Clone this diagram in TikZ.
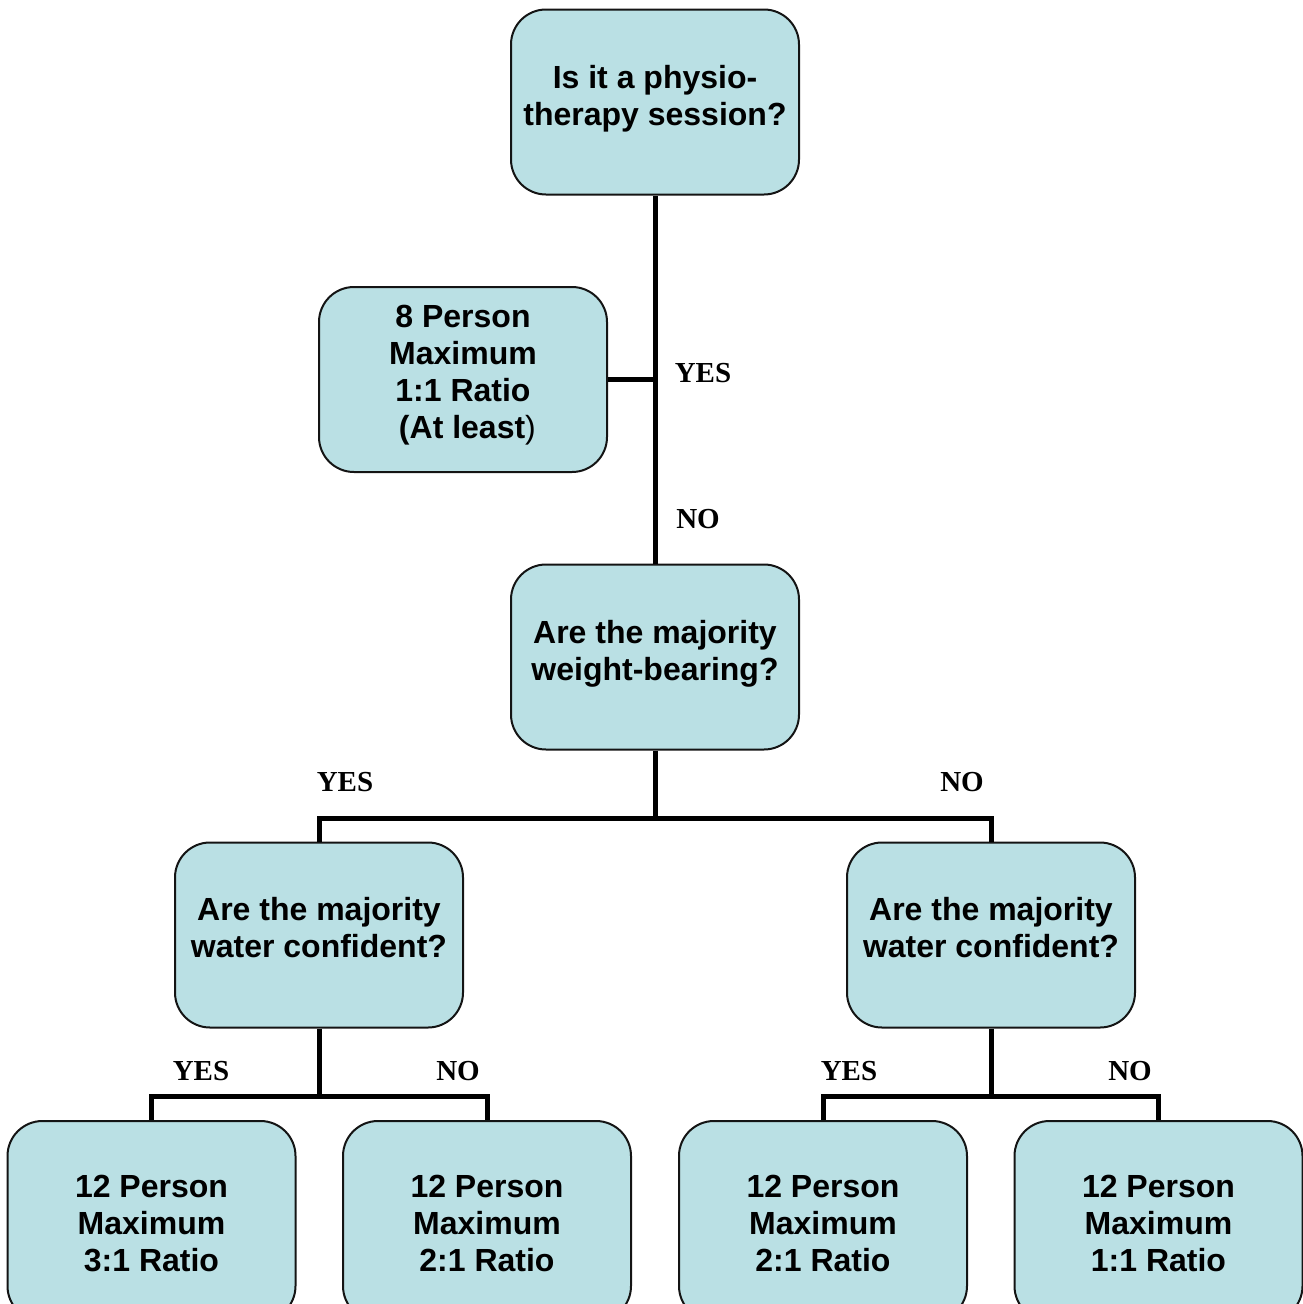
\documentclass[tikz,border=0pt]{standalone}
\usepackage{fontspec}
\setmainfont{Liberation Sans}
\newfontfamily\labfont{Liberation Serif}
\usetikzlibrary{calc}
\definecolor{boxfill}{RGB}{186,224,228}
\definecolor{boxline}{RGB}{20,20,20}
\tikzset{
  box/.style={draw=boxline, line width=2pt, fill=boxfill, rounded corners=35pt,
    minimum width=288pt, minimum height=185pt, inner sep=0pt},
  tallbox/.style={box, minimum height=200pt},
  txt/.style={align=center, font=\fontsize{32}{37}\selectfont\bfseries, inner sep=0pt},
  lab/.style={font=\labfont\fontsize{29}{32}\selectfont\bfseries, inner sep=0pt},
  conn/.style={line width=5pt, line join=miter}
}
\begin{document}
\begin{tikzpicture}[x=1pt,y=-1pt]
\useasboundingbox (0,0) rectangle (1302,1304);
% boxes
\node[box] (q1) at (655,102) {};
\node[txt] (q1t) at (655,98.5) {Is it a physio-\\therapy session?};
\node[box] (a1) at (463,379.5) {};
\node[txt] (a1t) at (463,375) {8 Person\\Maximum\\1:1 Ratio\\\ (At least\mdseries)};
\node[box] (q2) at (655,657) {};
\node[txt] (q2t) at (655,653.5) {Are the majority\\weight-bearing?};
\node[box] (q3l) at (319,935) {};
\node[txt] (q3lt) at (319,928) {Are the majority\\water confident?};
\node[box] (q3r) at (991,935) {};
\node[txt] (q3rt) at (991,928) {Are the majority\\water confident?};
\node[tallbox] (b1) at (151.5,1221) {};
\node[txt] (b1t) at (151.5,1223.5) {12 Person\\Maximum\\3:1 Ratio};
\node[tallbox] (b2) at (487,1221) {};
\node[txt] (b2t) at (487,1223.5) {12 Person\\Maximum\\2:1 Ratio};
\node[tallbox] (b3) at (823,1221) {};
\node[txt] (b3t) at (823,1223.5) {12 Person\\Maximum\\2:1 Ratio};
\node[tallbox] (b4) at (1158.5,1221) {};
\node[txt] (b4t) at (1158.5,1223.5) {12 Person\\Maximum\\1:1 Ratio};
% junctions
\coordinate (j1) at (655,818);
\coordinate (j2) at (319,1096);
\coordinate (j3) at (991,1096);
% connectors
\draw[conn] (q1.south) -- (q2.north);
\draw[conn] (a1.east) -- (a1.east -| q1.south);
\draw[conn] (q2.south) -- (j1);
\draw[conn] (q3l.north) |- (j1) -| (q3r.north);
\draw[conn] (q3l.south) -- (j2);
\draw[conn] (b1.north) |- (j2) -| (b2.north);
\draw[conn] (q3r.south) -- (j3);
\draw[conn] (b3.north) |- (j3) -| (b4.north);
% labels
\node[lab] (l1) at (703,373) {YES};
\node[lab] (l2) at (698,519) {NO};
\node[lab] (l3) at (345,782) {YES};
\node[lab] (l4) at (962,782) {NO};
\node[lab] (l5) at (201,1071) {YES};
\node[lab] (l6) at (458,1071) {NO};
\node[lab] (l7) at (849,1071) {YES};
\node[lab] (l8) at (1130,1071) {NO};
\end{tikzpicture}
\end{document}
